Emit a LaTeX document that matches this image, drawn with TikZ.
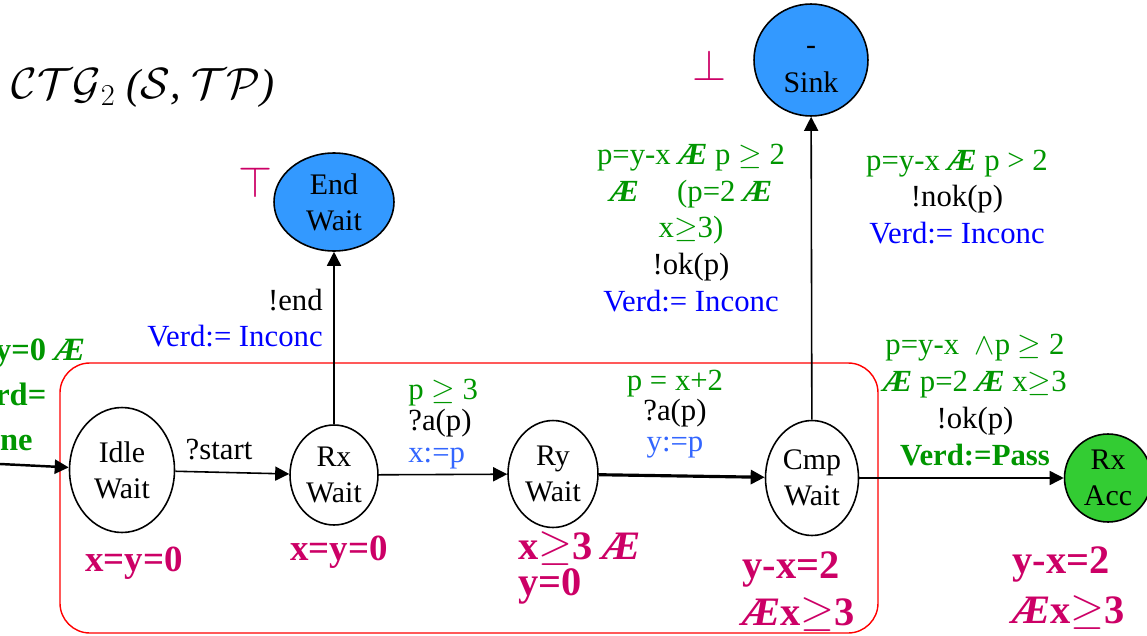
\documentclass[tikz,border=0pt]{standalone}
\usepackage{fontspec}
\setmainfont{Liberation Serif}
\usetikzlibrary{arrows.meta,positioning,shapes.geometric}
\definecolor{grd}{RGB}{0,150,0}
\definecolor{blu}{RGB}{0,0,255}
\definecolor{ltblu}{RGB}{51,102,255}
\definecolor{pnk}{RGB}{204,0,102}
\definecolor{stfill}{RGB}{51,153,255}
\definecolor{accfill}{RGB}{51,204,51}
\newcommand{\conj}{\textbf{\textit{Æ}}}
\newcommand{\grn}[1]{\textcolor{grd}{#1}}

\begin{document}
\begin{tikzpicture}[x=0.02cm, y=-0.02cm,
  >={Triangle[length=8pt,width=8pt]},
  every node/.style = {font=\fontsize{17.5}{21}\selectfont},
  state/.style  = {ellipse, draw, line width=0.9pt, align=center,
                   inner sep=0pt, fill=white,
                   font=\fontsize{17}{20.5}\selectfont},
  lbl/.style    = {align=center, inner sep=0pt},
  inv/.style    = {text=pnk, align=left, inner sep=0pt, anchor=west,
                   font=\bfseries\fontsize{23}{27}\selectfont},
  arrow/.style  = {->, line width=0.9pt},
  heavy/.style  = {->, line width=1.8pt},
]
  \useasboundingbox (0,0) rectangle (1147,636);
  \clip (0,0) rectangle (1147,636);

  % test purpose region
  \draw[red, line width=0.8pt, rounded corners=17pt] (60,363) rectangle (878,633);

  \node[inner sep=0pt, font=\itshape\fontsize{24}{28}\selectfont] (title) at (143,88)
    {$\mathcal{CTG}_{2}$ ($\mathcal{S}$, $\mathcal{TP}$)};
  \node[text=pnk, inner sep=0pt, font=\fontsize{30}{30}\selectfont] (topsym) at (255,182) {$\top$};
  \node[text=pnk, inner sep=0pt, font=\fontsize{23}{23}\selectfont] (botsym) at (709,65) {$\bot$};

  \node[state, minimum width=2.1cm, minimum height=2.5cm] (idle) at (122,470) {Idle\\Wait};
  \node[state, minimum width=1.76cm, minimum height=2.0cm] (rx) at (334,475) {Rx\\Wait};
  \node[state, minimum width=1.8cm, minimum height=2.14cm] (ry) at (553,474) {Ry\\Wait};
  \node[state, minimum width=1.86cm, minimum height=2.3cm] (cmp) at (812,478) {Cmp\\Wait};
  \node[state, fill=accfill, minimum width=1.74cm, minimum height=1.76cm] (acc) at (1108,478) {Rx\\Acc};
  \node[state, fill=stfill, minimum width=2.4cm, minimum height=1.96cm] (endw) at (334,202) {End\\Wait};
  \node[state, fill=stfill, minimum width=2.28cm, minimum height=2.24cm,
        font=\fontsize{17}{22}\selectfont] (sink) at (811,60) {\strut-\\Sink};

  \coordinate (init) at (0,464);
  \draw[->, line width=1.4pt] (init) -- (idle);
  \draw[arrow] (idle) -- (rx);
  \draw[arrow] (rx) -- (endw);
  \draw[arrow] (rx) -- (ry);
  \draw[heavy] (ry) -- (cmp);
  \draw[arrow] (cmp) -- (sink);
  \draw[arrow] (cmp) -- (acc);

  % transition labels
  \node[lbl, align=left, anchor=west, text=grd,
        font=\bfseries\fontsize{18.5}{25.6}\selectfont] (initlbl) at (-40,395)
    {x=y=0 \conj\\Verd=\\None};
  \node[lbl] (startlbl) at (219,450) {?start};
  \node[lbl, align=right, anchor=east, font=\fontsize{17.5}{20.5}\selectfont] (endlbl) at (323,318)
    {!end\\\textcolor{blu}{Verd:= Inconc}};
  \node[lbl, align=left, anchor=west, font=\fontsize{17.5}{17.8}\selectfont] (albl) at (408,424)
    {\grn{p $\geq$ 3}\\?a(p)\\\textcolor{ltblu}{x:=p}};
  \node[lbl, font=\fontsize{17.5}{17.2}\selectfont] (blbl) at (675,414)
    {\grn{p = x+2}\\?a(p)\\\textcolor{ltblu}{y:=p}};
  \node[lbl] (oklbl) at (691,228)
    {\grn{p=y-x \conj{} p $\geq$ 2}\\\grn{\conj\quad\ (p=2 \conj}\\\grn{x$\geq$3)}\\!ok(p)\\\textcolor{blu}{Verd:= Inconc}};
  \node[lbl] (noklbl) at (957,197)
    {\grn{p=y-x \conj{} p > 2}\\!nok(p)\\\textcolor{blu}{Verd:= Inconc}};
  \node[lbl] (passlbl) at (975,400)
    {\grn{p=y-x \ $\wedge$p $\geq$ 2}\\\grn{\conj{} p=2 \conj{} x$\geq$3}\\!ok(p)\\\grn{\textbf{Verd:=Pass}}};

  % location invariants
  \node[inv, font=\bfseries\fontsize{21}{25}\selectfont] (invidle) at (85,563) {x=y=0};
  \node[inv, font=\bfseries\fontsize{21}{25}\selectfont] (invrx) at (290,552) {x=y=0};
  \node[inv, font=\bfseries\fontsize{23}{21}\selectfont] (invry) at (518,568) {x$\geq$3 \conj\\y=0};
  \node[inv, font=\bfseries\fontsize{23}{26.7}\selectfont] (invcmp) at (742,592) {y-x=2\\\conj x$\geq$3};
  \node[inv, font=\bfseries\fontsize{23}{28}\selectfont] (invacc) at (1012,588) {y-x=2\\\conj x$\geq$3};
\end{tikzpicture}
\end{document}
